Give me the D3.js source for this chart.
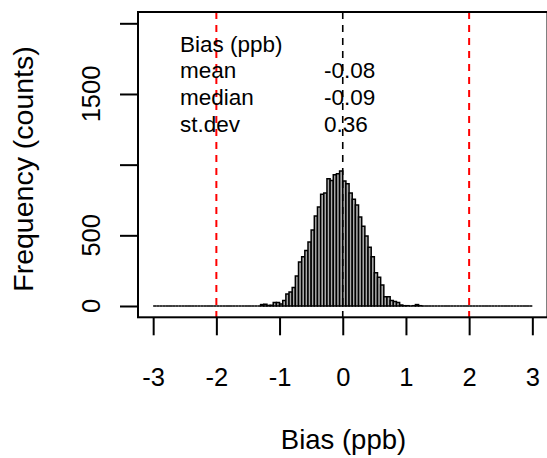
<!DOCTYPE html>
<html>
<head>
<meta charset="utf-8">
<script src="https://cdn.jsdelivr.net/npm/d3@7"></script>
<style>
  body { margin: 0; background: #fff; }
  svg text { font-family: "Liberation Sans", Arial, Helvetica, sans-serif; fill: #000; }
</style>
</head>
<body>
<div id="chart"></div>
<script>
// histogram of bias, bins 0.05 ppb wide from -3 to 3
const binStart = -3;
const binWidth = 0.05;
const counts = [
    0, 0, 0, 0, 0, 0, 0, 0, 0, 0,
    0, 0, 0, 0, 0, 0, 0, 0, 0, 0,
    0, 0, 0, 0, 0, 0, 0, 0, 0, 0,
    0, 0, 0, 0, 10, 12, 4, 5, 24, 24,
    14, 38, 85, 99, 130, 212, 311, 349, 392, 453,
    538, 637, 700, 790, 800, 900, 888, 928, 935, 955,
    885, 865, 800, 755, 715, 630, 565, 495, 415, 349,
    236, 203, 149, 66, 66, 38, 31, 24, 7, 2,
    2, 0, 2, 10, 2, 0, 0, 0, 0, 0,
    0, 0, 0, 0, 0, 0, 0, 0, 0, 0,
    0, 0, 0, 0, 0, 0, 0, 0, 0, 0,
    0, 0, 0, 0, 0, 0, 0, 0, 0, 0
];

const xTicks = [-3, -2, -1, 0, 1, 2, 3];
const yTicks = [0, 500, 1000, 1500, 2000];
const yLabelled = [0, 500, 1500];
const limitLines = [-2, 2];
const centerLine = [0];

const statNames = ["mean", "median", "st.dev"];
const statValues = ["-0.08", "-0.09", "0.36"];

const width = 547;
const height = 458;
const plot = { left: 138, right: 547.5, top: 12, bottom: 317.3 };

const svg = d3.select("#chart")
    .append("svg")
    .attr("width", width)
    .attr("height", height);

// R style 4% padding on both axes
const x = d3.scaleLinear().domain([-3.24, 3.24]).range([plot.left, plot.right]);
const y = d3.scaleLinear().domain([-80, 2080]).range([plot.bottom, plot.top]);

const bins = counts.map((c, i) => ({
    x0: binStart + i * binWidth,
    x1: binStart + (i + 1) * binWidth,
    n: c
}));

// paths instead of rects so the empty bins still draw their outline
svg.append("g")
    .selectAll("path")
    .data(bins)
    .enter().append("path")
    .attr("d", d => `M${x(d.x0)},${y(0)}H${x(d.x1)}V${y(d.n)}H${x(d.x0)}Z`)
    .attr("fill", "#ababab")
    .attr("stroke", "#000")
    .attr("stroke-width", 1.5);

svg.append("g")
    .selectAll("line")
    .data(centerLine)
    .enter().append("line")
    .attr("x1", d => x(d)).attr("x2", d => x(d))
    .attr("y1", plot.top).attr("y2", plot.bottom)
    .attr("stroke", "#000")
    .attr("stroke-width", 1.6)
    .attr("stroke-dasharray", "7,6");

svg.append("g")
    .selectAll("line")
    .data(limitLines)
    .enter().append("line")
    .attr("x1", d => x(d)).attr("x2", d => x(d))
    .attr("y1", plot.top).attr("y2", plot.bottom)
    .attr("stroke", "#ff0000")
    .attr("stroke-width", 2)
    .attr("stroke-dasharray", "7,6");

// box
svg.append("rect")
    .attr("x", plot.left)
    .attr("y", plot.top)
    .attr("width", plot.right - plot.left)
    .attr("height", plot.bottom - plot.top)
    .attr("fill", "none")
    .attr("stroke", "#000")
    .attr("stroke-width", 2);

const xAxis = svg.append("g")
    .attr("transform", `translate(0,${plot.bottom})`)
    .call(d3.axisBottom(x).tickValues(xTicks).tickSize(18).tickSizeOuter(0).tickFormat(d3.format("d")));
xAxis.select(".domain").remove();
xAxis.selectAll("line").attr("stroke", "#000").attr("stroke-width", 2);
xAxis.selectAll("text")
    .attr("y", 386 - plot.bottom)
    .attr("dy", 0)
    .style("font-size", "25.5px")
    .text(d => d < 0 ? "-" + Math.abs(d) : d);

const yAxis = svg.append("g")
    .attr("transform", `translate(${plot.left},0)`)
    .call(d3.axisLeft(y).tickValues(yTicks).tickSize(18).tickSizeOuter(0));
yAxis.select(".domain").remove();
yAxis.selectAll("line").attr("stroke", "#000").attr("stroke-width", 2);
yAxis.selectAll("text").remove();

svg.append("g")
    .selectAll("text")
    .data(yLabelled)
    .enter().append("text")
    .attr("transform", d => `translate(100,${y(d)}) rotate(-90)`)
    .attr("text-anchor", "middle")
    .style("font-size", "25.5px")
    .text(d => d);

svg.append("text")
    .attr("x", 343.5)
    .attr("y", 449)
    .attr("text-anchor", "middle")
    .style("font-size", "27.5px")
    .text("Bias (ppb)");

svg.append("text")
    .attr("transform", "translate(33,169) rotate(-90)")
    .attr("text-anchor", "middle")
    .style("font-size", "28.5px")
    .text("Frequency (counts)");

// stats block
const stats = svg.append("g").style("font-size", "22.5px");
stats.append("text").attr("x", 180).attr("y", 51.7).text("Bias (ppb)");
stats.selectAll(".name")
    .data(statNames)
    .enter().append("text")
    .attr("class", "name")
    .attr("x", 180)
    .attr("y", (d, i) => 78 + i * 27)
    .text(d => d);
stats.selectAll(".val")
    .data(statValues)
    .enter().append("text")
    .attr("class", "val")
    .attr("x", 324)
    .attr("y", (d, i) => 78 + i * 27)
    .text(d => d);
</script>
</body>
</html>
